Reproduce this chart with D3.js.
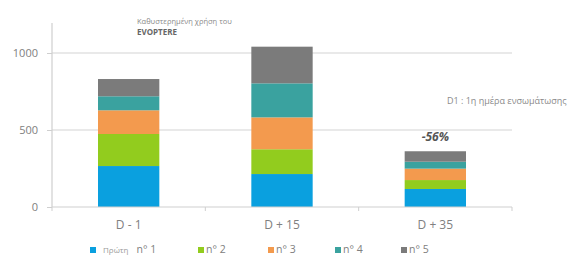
<!DOCTYPE html>
<html>
<head>
<meta http-equiv='Content-Type' content='text/html;charset=utf-8'/>
<title>EVOPTERE</title>
<script src='https://d3js.org/d3.v7.min.js'></script>
<style>
body { margin: 0; background: #ffffff; font-family: 'Open Sans', 'DejaVu Sans', sans-serif; }
</style>
</head>
<body>
<script>
'use strict'

// chart data
const categories = ['D - 1', 'D + 15', 'D + 35']
const seriesNames = ['n° 1', 'n° 2', 'n° 3', 'n° 4', 'n° 5']
const serie1 = [266, 214, 117]
const serie2 = [208, 161, 58]
const serie3 = [154, 207, 74]
const serie4 = [91, 221, 45]
const serie5 = [112, 238, 68]
const yTicks = [0, 500, 1000]
const colours = ['#0aa0df', '#92cc1e', '#f39a4e', '#3aa29f', '#7b7b7b']

const W = 580, H = 259
const plot = {left: 52, right: 512, top: 23, bottom: 207}

const svg = d3.select('body').append('svg')
	.attr('width', W).attr('height', H)

const x = d3.scaleBand().domain(categories)
	.range([plot.left, plot.right]).paddingInner(0.6).paddingOuter(0.3)
const xTick = d3.scaleBand().domain(categories).range([plot.left, plot.right])
const y = d3.scaleLinear().domain([0, 1000]).range([plot.bottom, 53])

const rows = categories.map(function(c, i) {
	return {cat: c, s0: serie1[i], s1: serie2[i], s2: serie3[i], s3: serie4[i], s4: serie5[i]}
})
const stack = d3.stack().keys(['s0', 's1', 's2', 's3', 's4'])(rows)

// gridlines
svg.append('g').selectAll('line').data(yTicks.filter(d => d > 0)).join('line')
	.attr('x1', plot.left).attr('x2', plot.right)
	.attr('y1', d => y(d)).attr('y2', d => y(d))
	.attr('stroke', '#d4d4d4').attr('stroke-width', 1.2)

// bars
svg.append('g').selectAll('g').data(stack).join('g')
	.attr('fill', (d, i) => colours[i])
	.selectAll('rect').data(d => d).join('rect')
	.attr('x', d => x(d.data.cat))
	.attr('width', x.bandwidth())
	.attr('y', d => y(d[1]))
	.attr('height', d => y(d[0]) - y(d[1]))

// y axis
const yAxis = svg.append('g').attr('transform', 'translate(' + plot.left + ',0)')
	.call(d3.axisLeft(y).tickValues(yTicks).tickFormat(d3.format('d')).tickSize(5).tickPadding(9))
yAxis.select('.domain').attr('d', 'M0,' + plot.top + 'V' + plot.bottom).attr('stroke', '#cfcfcf').attr('stroke-width', 1.2)
yAxis.selectAll('.tick line').attr('stroke', '#cfcfcf')
yAxis.selectAll('text').attr('fill', '#808080').style('font-size', '11px')
	.style('font-family', "'Open Sans', sans-serif")

// x axis
const xAxis = svg.append('g').attr('transform', 'translate(0,' + plot.bottom + ')')
xAxis.append('line').attr('x1', plot.left).attr('x2', plot.right)
	.attr('stroke', '#cfcfcf').attr('stroke-width', 1.2)
xAxis.selectAll('.xt').data(categories.concat(['end'])).join('line')
	.attr('x1', (d, i) => plot.left + i * xTick.bandwidth())
	.attr('x2', (d, i) => plot.left + i * xTick.bandwidth())
	.attr('y1', 0).attr('y2', 4)
	.attr('stroke', '#cfcfcf')
xAxis.selectAll('text').data(categories).join('text')
	.attr('x', d => x(d) + x.bandwidth() / 2)
	.attr('y', 22)
	.attr('text-anchor', 'middle')
	.attr('fill', '#808080')
	.style('font-size', '12px')
	.text(d => d)

// annotations
svg.append('text').attr('x', 137).attr('y', 24)
	.attr('fill', '#8a8a8a').style('font-size', '7.5px')
	.text('Καθυστερημένη χρήση του')
svg.append('text').attr('x', 137).attr('y', 35)
	.attr('fill', '#666').style('font-size', '8px').style('font-weight', 'bold')
	.text('EVOPTERE')
svg.append('text').attr('x', 447).attr('y', 104)
	.attr('fill', '#8a8a8a').style('font-size', '9px')
	.text('D1 : 1η ημέρα ενσωμάτωσης')
svg.append('text')
	.attr('x', x('D + 35') + x.bandwidth() / 2).attr('y', 141)
	.attr('text-anchor', 'middle')
	.attr('fill', '#555').style('font-size', '12px').style('font-weight', 'bold')
	.style('font-style', 'italic')
	.text('-56%')

// legend
const legendX = [90, 198, 268, 335, 401]
const legend = svg.append('g').selectAll('g').data(seriesNames).join('g')
	.attr('transform', (d, i) => 'translate(' + legendX[i] + ',253)')
legend.append('rect').attr('x', 0).attr('y', -6).attr('width', 6).attr('height', 6)
	.attr('fill', (d, i) => colours[i])
legend.append('text').attr('x', 8).attr('y', 0)
	.attr('fill', '#808080').style('font-size', '10.5px')
	.text((d, i) => i === 0 ? '' : d)
legend.filter((d, i) => i === 0).select('text')
	.attr('x', 13)
	.call(t => {
		t.append('tspan').style('font-size', '8px').attr('fill', '#9a9a9a').text('Πρώτη')
		t.append('tspan').attr('dx', 8).text(seriesNames[0])
	})
</script>
</body>
</html>
